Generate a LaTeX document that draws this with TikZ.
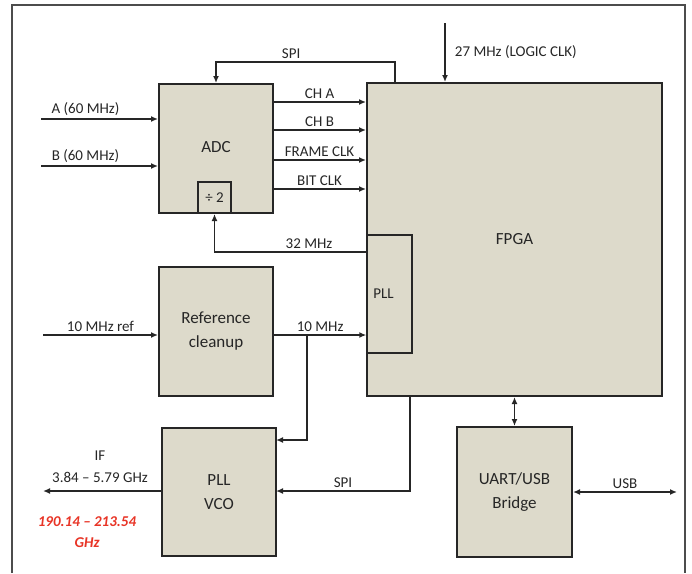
\documentclass[tikz,border=0pt]{standalone}
\usepackage{fontspec}
\setmainfont{Carlito}
\usetikzlibrary{arrows.meta,calc,positioning}
\definecolor{boxfill}{RGB}{221,218,203}
\definecolor{ifred}{RGB}{232,52,38}

\begin{document}
\begin{tikzpicture}[x=1pt,y=-1pt,
>={Latex[length=7pt,width=6pt]},
blk/.style={draw=black!85,fill=boxfill,line width=2pt,inner sep=0pt,align=center,
  text=black!85,font=\fontsize{17}{24}\selectfont},
lbl/.style={text=black!85,inner sep=2pt,font=\fontsize{15}{22}\selectfont},
sig/.style={draw=black!85,line width=1.9pt}]
\useasboundingbox (0,0) rectangle (692,573);
\draw[black!70,line width=1.2pt] (12,573)--(12,5)--(685,5)--(685,573);

\node[blk,minimum width=114pt,minimum height=129pt] (ADC) at (216,148.5) {\raisebox{4pt}{ADC}};
\node[blk,minimum width=33pt,minimum height=31pt,font=\fontsize{15}{18}\selectfont] (div) at (214.5,197.5) {÷ 2};
\node[blk,minimum width=114pt,minimum height=129pt] (Ref) at (216,331.5) {Reference\\cleanup};
\node[blk,minimum width=114pt,minimum height=128pt] (VCO) at (219,492) {PLL\\VCO};
\node[blk,minimum width=295pt,minimum height=313pt] (FPGA) at (514.5,239.5) {FPGA};
\node[blk,line width=1.4pt,minimum width=45pt,minimum height=118pt,font=\fontsize{15}{18}\selectfont] (PLL) at (389.5,294) {PLL\hspace*{12pt}};
\node[blk,minimum width=115pt,minimum height=130pt] (UART) at (514.5,492) {UART/USB\\Bridge};

\coordinate (inA) at (41,119);
\coordinate (inB) at (41,166);
\draw[sig,->] (inA) -- (inA -| ADC.west) node[lbl,pos=0.38,above] (lA) {A (60 MHz)};
\draw[sig,->] (inB) -- (inB -| ADC.west) node[lbl,pos=0.38,above] (lB) {B (60 MHz)};

\coordinate (spiT) at (395,83);
\draw[sig,->] (spiT) -- ++(0,-21) -| node[lbl,pos=0.29,above] (lspi) {SPI} (ADC.north);

\foreach \yy/\txt/\nm in {102/CH A/cha,130/CH B/chb,160/FRAME CLK/frm,189/BIT CLK/bit}{
  \coordinate (\nm) at (273,\yy);
  \draw[sig,->] (\nm) -- (\nm -| FPGA.west) node[lbl,midway,above] (\nm-l) {\txt};
}

\coordinate (c32) at (367,252);
\draw[sig,->] (c32) -| node[lbl,pos=0.19,above] (l32) {32 MHz} (div.south);

\coordinate (inR) at (43,335);
\draw[sig,->] (inR) -- (inR -| Ref.west) node[lbl,midway,above] (lref) {10 MHz ref};
\draw[sig,->] (inR -| Ref.east) -- (inR -| PLL.west) node[lbl,midway,above] (l10) {10 MHz};
\coordinate (br) at (307,335);
\coordinate (vin) at (276,440);
\draw[sig,->,line width=1.4pt] (br) |- (vin);

\coordinate (spiB) at (410,396);
\coordinate (vspi) at (276,491);
\draw[sig,->] (spiB) |- node[lbl,pos=0.75,above] (lspib) {SPI} (vspi);

\coordinate (ifo) at (43,491);
\draw[sig,->] (vspi -| VCO.west) -- (ifo);
\node[lbl,align=center] (lIF) at (100,467) {IF\\3.84 – 5.79 GHz};
\node[lbl,align=center,text=ifred,font=\fontsize{15}{21}\selectfont\bfseries\itshape] (lGHz) at (87,532) {190.14 – 213.54\\GHz};

\draw[sig,<->] (FPGA) -- (UART);
\coordinate (usb) at (677,492);
\draw[sig,<->] (UART.east) -- (usb) node[lbl,midway,above] (lusb) {USB};

\coordinate (clk) at (445,23);
\draw[sig,->] (clk) -- (clk |- FPGA.north) node[lbl,midway,right=7pt] (lclk) {27 MHz (LOGIC CLK)};
\end{tikzpicture}
\end{document}
